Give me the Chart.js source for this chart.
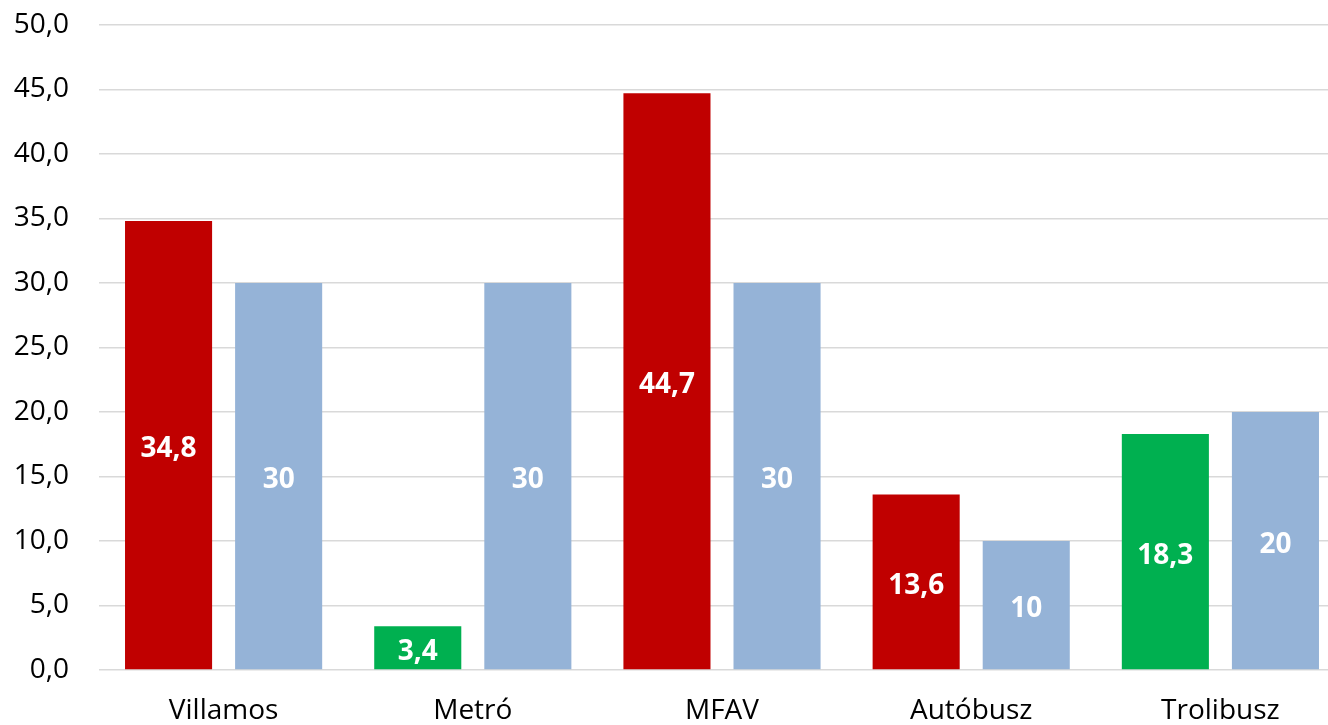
<!DOCTYPE html>
<html>
<head>
<meta charset="utf-8">
<script src="https://cdn.jsdelivr.net/npm/chart.js@4/dist/chart.umd.min.js"></script>
<style>
html,body{margin:0;padding:0;background:#fff;overflow:hidden;width:1328px;height:725px;}
canvas{display:block;}
</style>
</head>
<body>
<canvas id="c" width="1345" height="725"></canvas>
<script>
const categories = ["Villamos", "Metró", "MFAV", "Autóbusz", "Trolibusz"];
const actualValues = [34.8, 3.4, 44.7, 13.6, 18.3];
const actualColors = ["#C00000", "#00B050", "#C00000", "#C00000", "#00B050"];
const targetValues = [30, 30, 30, 10, 20];
const targetColor = "#95B3D7";
const yMin = 0, yMax = 50, yStep = 5;

const FONT = "'Open Sans', 'Liberation Sans', sans-serif";

const labelPlugin = {
  id: 'barLabels',
  afterDatasetsDraw(chart) {
    const ctx = chart.ctx;
    ctx.save();
    ctx.font = "bold 28px " + FONT;
    ctx.fillStyle = "#FFFFFF";
    ctx.textAlign = "center";
    ctx.textBaseline = "middle";
    chart.data.datasets.forEach((ds, di) => {
      const meta = chart.getDatasetMeta(di);
      meta.data.forEach((bar, i) => {
        const v = ds.data[i];
        const txt = di === 0 ? v.toFixed(1).replace('.', ',') : String(v);
        ctx.fillText(txt, bar.x, (bar.y + bar.base) / 2 + 4);
      });
    });
    ctx.restore();
  }
};

new Chart(document.getElementById('c'), {
  type: 'bar',
  data: {
    labels: categories,
    datasets: [
      { data: actualValues, backgroundColor: actualColors, barPercentage: 0.791, categoryPercentage: 0.8835 },
      { data: targetValues, backgroundColor: targetColor, barPercentage: 0.791, categoryPercentage: 0.8835 }
    ]
  },
  options: {
    responsive: false,
    animation: false,
    layout: { padding: { top: 25, left: 0, right: 0, bottom: 0 } },
    plugins: { legend: { display: false }, tooltip: { enabled: false } },
    scales: {
      x: {
        grid: { display: false, drawTicks: false },
        border: { display: false },
        ticks: { color: "#000", font: { family: FONT, size: 28 }, padding: 24, maxRotation: 0 },
        afterFit(s) { s.height = 55; s.paddingLeft = 0; s.paddingRight = 0; }
      },
      y: {
        min: yMin, max: yMax,
        grid: { color: "#D9D9D9", lineWidth: 1.5, drawTicks: false },
        border: { display: false },
        ticks: {
          stepSize: yStep, color: "#000", font: { family: FONT, size: 28 }, padding: 30,
          callback: v => v.toFixed(1).replace('.', ',')
        },
        afterFit(s) { s.width = 99; s.paddingTop = 0; s.paddingBottom = 0; }
      }
    }
  },
  plugins: [labelPlugin]
});
</script>
</body>
</html>
